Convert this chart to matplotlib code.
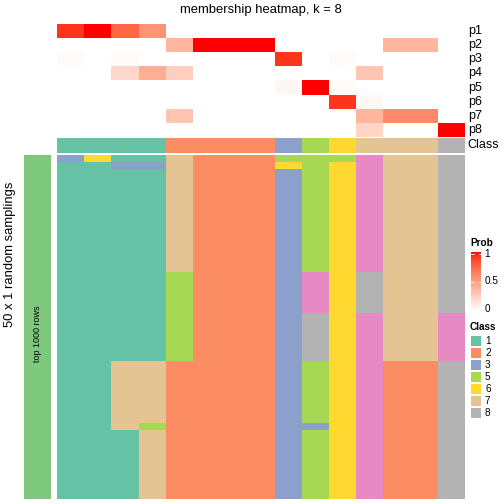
"""
plot.py
Membership heatmap (k = 8) with top probability rows and class annotation.
"""

import numpy as np
import matplotlib
matplotlib.use("Agg")
import matplotlib.pyplot as plt
from matplotlib.colors import ListedColormap, to_rgb
from matplotlib.patches import Rectangle

plt.rcParams['font.family'] = ['Liberation Sans', 'DejaVu Sans']

# ---- data ----
prob_labels = ['p1', 'p2', 'p3', 'p4', 'p5', 'p6', 'p7', 'p8']
# membership probability of each of the 15 columns (samples)
p1 = [0.92, 1.00, 0.75, 0.55, 0, 0, 0, 0, 0, 0, 0, 0, 0, 0, 0]
p2 = [0, 0, 0, 0, 0.38, 1.00, 1.00, 1.00, 0, 0, 0, 0, 0.38, 0.38, 0]
p3 = [0.02, 0, 0.02, 0, 0, 0, 0, 0, 0.92, 0, 0.02, 0, 0, 0, 0]
p4 = [0, 0, 0.20, 0.42, 0.25, 0, 0, 0, 0, 0, 0, 0.30, 0, 0, 0]
p5 = [0, 0, 0, 0, 0, 0, 0, 0, 0.04, 1.00, 0.02, 0, 0, 0, 0]
p6 = [0, 0, 0, 0, 0, 0, 0, 0, 0, 0, 0.92, 0.04, 0, 0, 0]
p7 = [0, 0, 0, 0, 0.30, 0, 0, 0, 0, 0, 0, 0.38, 0.60, 0.60, 0]
p8 = [0, 0, 0, 0, 0, 0, 0, 0, 0, 0, 0, 0.22, 0, 0, 1.00]

class_row = [1, 1, 1, 1, 2, 2, 2, 2, 3, 5, 6, 7, 7, 7, 8]

# class of each of the 50 samplings per column, as (class, run length)
col_runs = [
    [(3, 1), (1, 49)],
    [(6, 1), (1, 49)],
    [(1, 1), (3, 1), (1, 28), (7, 10), (1, 10)],
    [(1, 1), (3, 1), (1, 28), (7, 9), (5, 1), (7, 10)],
    [(7, 17), (5, 13), (2, 20)],
    [(2, 50)],
    [(2, 50)],
    [(2, 50)],
    [(5, 1), (6, 1), (3, 48)],
    [(5, 17), (4, 6), (8, 7), (5, 9), (3, 1), (5, 10)],
    [(5, 1), (6, 49)],
    [(4, 17), (8, 6), (4, 27)],
    [(7, 30), (2, 20)],
    [(7, 30), (2, 20)],
    [(8, 23), (4, 7), (8, 20)],
]

legend_classes = [1, 2, 3, 5, 6, 7, 8]
class_colors = {1: '#66C2A5', 2: '#FC8D62', 3: '#8DA0CB', 4: '#E78AC3',
                5: '#A6D854', 6: '#FFD92F', 7: '#E5C494', 8: '#B3B3B3'}


def lab_ramp(c0, c1, n=256):
    """white -> red ramp interpolated in CIE LAB (like colorRamp2)."""
    def to_lab(rgb):
        rgb = np.array(rgb)
        lin = np.where(rgb > 0.04045, ((rgb + 0.055) / 1.055) ** 2.4, rgb / 12.92)
        M = np.array([[0.4124, 0.3576, 0.1805],
                      [0.2126, 0.7152, 0.0722],
                      [0.0193, 0.1192, 0.9505]])
        xyz = M @ lin / np.array([0.95047, 1.0, 1.08883])
        f = np.where(xyz > 0.008856, np.cbrt(xyz), 7.787 * xyz + 16 / 116)
        return np.array([116 * f[1] - 16, 500 * (f[0] - f[1]), 200 * (f[1] - f[2])])

    def to_rgb_lab(lab):
        fy = (lab[0] + 16) / 116
        fx = fy + lab[1] / 500
        fz = fy - lab[2] / 200
        f = np.array([fx, fy, fz])
        xyz = np.where(f ** 3 > 0.008856, f ** 3, (f - 16 / 116) / 7.787)
        xyz = xyz * np.array([0.95047, 1.0, 1.08883])
        Minv = np.array([[3.2406, -1.5372, -0.4986],
                         [-0.9689, 1.8758, 0.0415],
                         [0.0557, -0.2040, 1.0570]])
        lin = Minv @ xyz
        rgb = np.where(lin > 0.0031308, 1.055 * np.abs(lin) ** (1 / 2.4) - 0.055, 12.92 * lin)
        return np.clip(rgb, 0, 1)

    a, b = to_lab(to_rgb(c0)), to_lab(to_rgb(c1))
    return ListedColormap([to_rgb_lab(a + (b - a) * t) for t in np.linspace(0, 1, n)])


prob_cmap = lab_ramp('white', 'red')

W = H = 504.0
fig = plt.figure(figsize=(7, 7), dpi=72)


def px_axes(x0, y0, x1, y1):
    """axes from pixel box (top-left origin)."""
    ax = fig.add_axes([x0 / W, 1 - y1 / H, (x1 - x0) / W, (y1 - y0) / H])
    ax.set_axis_off()
    return ax


ncol = len(class_row)

# probability rows
ax_p = px_axes(57, 24, 465, 137)
probs = np.array([p1, p2, p3, p4, p5, p6, p7, p8])
ax_p.imshow(probs, cmap=prob_cmap, vmin=0, vmax=1, aspect='auto',
            interpolation='nearest', extent=(0, ncol, len(prob_labels), 0))
ax_p.set_xlim(0, ncol)
ax_p.set_ylim(len(prob_labels), 0)
for i, lab in enumerate(prob_labels):
    ax_p.text(ncol + 0.1, i + 0.5, lab, va='center', ha='left', fontsize=12.5)

# class annotation row
ax_c = px_axes(57, 138, 465, 153)
for j, c in enumerate(class_row):
    ax_c.add_patch(Rectangle((j, 0), 1, 1, color=class_colors[c], lw=0))
ax_c.set_xlim(0, ncol)
ax_c.set_ylim(0, 1)
ax_c.text(ncol + 0.1, 0.5, 'Class', va='center', ha='left', fontsize=12.5)

# main membership heatmap
ax_m = px_axes(57, 155, 465, 499)
nrow = sum(n for _, n in col_runs[0])
for j, runs in enumerate(col_runs):
    r = 0
    for c, n in runs:
        ax_m.add_patch(Rectangle((j, r), 1, n, color=class_colors[c], lw=0))
        r += n
ax_m.set_xlim(0, ncol)
ax_m.set_ylim(nrow, 0)

# left annotation bar
ax_l = px_axes(24, 155, 51, 499)
ax_l.add_patch(Rectangle((0, 0), 1, 1, color='#7FC97F', lw=0))
ax_l.set_xlim(0, 1)
ax_l.set_ylim(0, 1)
ax_l.text(0.5, 0.48, 'top 1000 rows', rotation=90, ha='center', va='center', fontsize=9)

fig.text(10 / W, 1 - 254 / H, '50 x 1 random samplings', rotation=90,
         ha='center', va='center', fontsize=13)
fig.text(261 / W, 1 - 10 / H, 'membership heatmap, k = 8',
         ha='center', va='center', fontsize=13)

# Prob colour bar
fig.text(470 / W, 1 - 243 / H, 'Prob', ha='left', va='center',
         fontsize=10, fontweight='bold')
ax_cb = px_axes(471, 252, 481, 311)
grad = np.linspace(1, 0, 200).reshape(-1, 1)
ax_cb.imshow(grad, cmap=prob_cmap, vmin=0, vmax=1, aspect='auto',
             extent=(0, 1, 0, 1))
ax_cb.set_xlim(0, 1)
ax_cb.set_ylim(0, 1)
for v, lab in [(0.97, '1'), (0.5, '0.5'), (0.03, '0')]:
    if v > 0.1:
        ax_cb.plot([0, 0.25], [v, v], color='white', lw=0.8)
        ax_cb.plot([0.75, 1], [v, v], color='white', lw=0.8)
    ax_cb.text(1.35, v, lab, ha='left', va='center', fontsize=10)

# Class legend
fig.text(470 / W, 1 - 327 / H, 'Class', ha='left', va='center',
         fontsize=10, fontweight='bold')
for k, c in enumerate(legend_classes):
    y0 = 336 + 12 * k
    ax_k = px_axes(471, y0, 481, y0 + 10)
    ax_k.add_patch(Rectangle((0, 0), 1, 1, color=class_colors[c], lw=0))
    ax_k.set_xlim(0, 1)
    ax_k.set_ylim(0, 1)
    fig.text(485 / W, 1 - (y0 + 5) / H, str(c), ha='left', va='center', fontsize=10)

fig.savefig('out.png', dpi=72)
